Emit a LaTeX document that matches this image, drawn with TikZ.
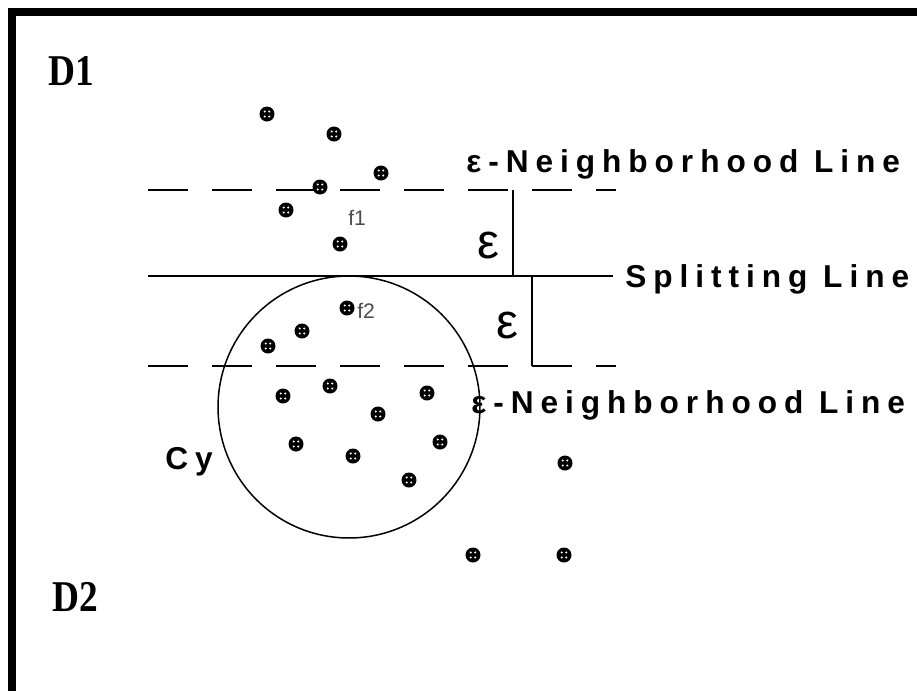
\documentclass[tikz,border=0pt]{standalone}
\usepackage{fontspec}
\setmainfont{Liberation Serif}
\newfontfamily\lblfont[LetterSpace=22]{Liberation Sans}
\newfontfamily\plainsans{Liberation Sans}
\begin{document}
\begin{tikzpicture}[x=0.02cm,y=-0.02cm,
  lineA/.style={line width=0.04cm},
  dashline/.style={line width=0.04cm, dash pattern=on 0.8cm off 0.48cm},
  lbl/.style={inner sep=0pt, anchor=base west, font=\fontsize{18}{21}\selectfont\lblfont\bfseries},
  dlbl/.style={inner sep=0pt, anchor=base west, xscale=0.85, font=\fontsize{25}{29}\selectfont\bfseries},
  flbl/.style={inner sep=0pt, anchor=base west, text=black!70, font=\fontsize{12}{14}\selectfont\plainsans},
  eps/.style={inner sep=0pt, font=\fontsize{28}{32}\selectfont\plainsans},
  pt/.style={circle, fill=black, inner sep=0pt, minimum size=0.3cm, path picture={
    \foreach \dx/\dy in {-1/-1,1/-1,-1/1,1/1}{
      \fill[white] ([shift={(\dx*0.045cm,\dy*0.05cm)}]path picture bounding box.center) circle (0.024cm);}
  }}]
\useasboundingbox (0,0) rectangle (917,691);
\fill[white] (0,0) rectangle (917,691);
% frame
\draw[line width=0.16cm, line join=miter] (12,691) -- (12,12) -- (917,12);
% coordinates
\coordinate (uL) at (148,190); \coordinate (uR) at (616,190);
\coordinate (sL) at (148,276); \coordinate (sR) at (613,276);
\coordinate (lL) at (148,366); \coordinate (lR) at (616,366);
\coordinate (v1t) at (513,190); \coordinate (v1b) at (513,276);
\coordinate (v2t) at (532,276); \coordinate (v2b) at (532,366);
% lines
\draw[dashline] (uL) -- (uR);
\draw[dashline] (lL) -- (lR);
\draw[lineA] (sL) -- (sR);
\draw[lineA] (v1t) -- (v1b);
\draw[lineA] (v2t) -- (v2b);
% circle
\node[draw, line width=0.03cm, circle, minimum size=5.24cm, inner sep=0pt] (cy) at (349,407) {};
% labels
\node[lbl] (nu) at (466,172) {ε-Neighborhood Line};
\node[lbl] (nl) at (471,413) {ε-Neighborhood Line};
\node[lbl] (sp) at (625,287) {Splitting Line};
\node[lbl] (cyl) at (165,469) {Cy};
\node[dlbl] (d1) at (48,85) {D1};
\node[dlbl] (d2) at (52,611) {D2};
\node[eps] (e1) at (488,245) {ε};
\node[eps] (e2) at (507,325) {ε};
\node[flbl] (f1) at (348,225) {f1};
\node[flbl] (f2) at (357,318) {f2};
% points
\node[pt] (p1) at (267,114) {};
\node[pt] (p2) at (334,134) {};
\node[pt] (p3) at (381,173) {};
\node[pt] (p4) at (320,187) {};
\node[pt] (p5) at (286,210) {};
\node[pt] (p6) at (340,244) {};
\node[pt] (p7) at (347,308) {};
\node[pt] (p8) at (302,331) {};
\node[pt] (p9) at (268,346) {};
\node[pt] (p10) at (283,396) {};
\node[pt] (p11) at (330,386) {};
\node[pt] (p12) at (378,414) {};
\node[pt] (p13) at (427,393) {};
\node[pt] (p14) at (296,444) {};
\node[pt] (p15) at (353,456) {};
\node[pt] (p16) at (440,442) {};
\node[pt] (p17) at (409,480) {};
\node[pt] (p18) at (565,463) {};
\node[pt] (p19) at (473,555) {};
\node[pt] (p20) at (564,555) {};
\end{tikzpicture}
\end{document}
